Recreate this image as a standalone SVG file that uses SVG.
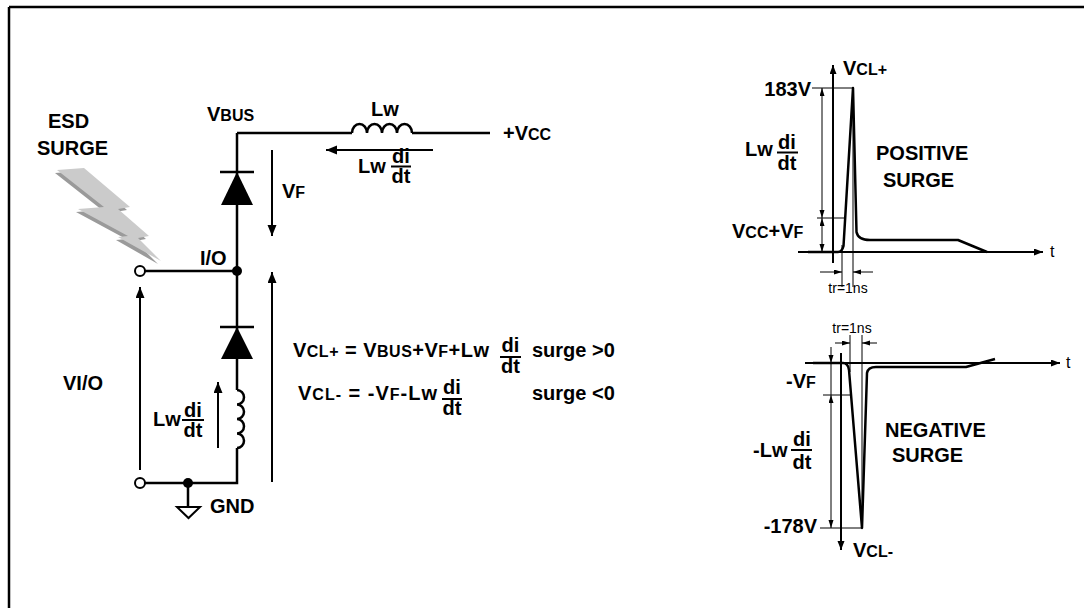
<svg xmlns="http://www.w3.org/2000/svg" width="1084" height="608" viewBox="0 0 1084 608">
<style>
text{font-family:"Liberation Sans",Arial,Helvetica,sans-serif;fill:#000}
.b{font-weight:bold;font-size:20px}
.s{font-size:16px}
.n{font-weight:normal;font-size:14px}
.t{font-weight:normal;font-size:16px}
.w{fill:none;stroke:#000;stroke-width:2.5}
.a{fill:none;stroke:#000;stroke-width:2}
.th{fill:none;stroke:#000;stroke-width:1}
.wave{fill:none;stroke:#000;stroke-width:2.5;stroke-linejoin:round}
.fl{stroke:#000;stroke-width:2}
</style>
<defs>
<marker id="ah" markerUnits="userSpaceOnUse" markerWidth="12" markerHeight="10" refX="11" refY="4.5" orient="auto"><path d="M0,0 L11,4.5 L0,9 z" fill="#000"/></marker>
<marker id="am" markerUnits="userSpaceOnUse" markerWidth="10" markerHeight="8" refX="9" refY="3.5" orient="auto"><path d="M0,0 L9,3.5 L0,7 z" fill="#000"/></marker>
<marker id="as" markerUnits="userSpaceOnUse" markerWidth="9" markerHeight="6" refX="8" refY="2.5" orient="auto-start-reverse"><path d="M0,0 L8,2.5 L0,5 z" fill="#000"/></marker>
</defs>

<g id="frame">
<path d="M9,7 H1084 M9,7 V608" fill="none" stroke="#000" stroke-width="2.5"/>
</g>

<g id="lightning">
<polygon points="55,173 81,171 127,210 115,212 146,239 135,241 158,264 116,240 126,239 76,212 102,210" fill="#9a9a9a"/>
<polygon points="57,170 84,168 130,207 118,209 149,236 138,238 161,261 118,237 128,236 78,209 104,207" fill="#cbcbcb"/>
<text class="b" x="48" y="128">ESD</text>
<text class="b" x="37" y="155">SURGE</text>
</g>

<g id="connectors">
<path class="w" d="M237,133 H352 M412,133 H490"/>
<path class="w" d="M237,133 V390 M237,448 V483 H145"/>
<path class="w" d="M145,271 H237"/>
<path class="w" d="M188,483 V507"/>
</g>

<g id="inductor-top">
<path class="w" d="M352,133 a7.5,9 0 0 1 15,0 a7.5,9 0 0 1 15,0 a7.5,9 0 0 1 15,0 a7.5,9 0 0 1 15,0"/>
<text class="b" x="385" y="116" text-anchor="middle">Lw</text>
</g>

<g id="vcc">
<text class="b" x="503" y="140">+V<tspan class="s">CC</tspan></text>
</g>

<g id="vbus">
<text class="b" x="207" y="121">V<tspan class="s">BUS</tspan></text>
</g>

<g id="diode-top">
<polygon points="221,205 253,205 237,172" fill="#000"/>
<line class="w" x1="220" y1="172" x2="254" y2="172"/>
</g>

<g id="diode-bottom">
<polygon points="221,359 253,359 237,327" fill="#000"/>
<line class="w" x1="220" y1="327" x2="254" y2="327"/>
</g>

<g id="inductor-vert">
<path class="w" d="M237,390 a7,7.25 0 0 1 0,14.5 a7,7.25 0 0 1 0,14.5 a7,7.25 0 0 1 0,14.5 a7,7.25 0 0 1 0,14.5"/>
</g>

<g id="io-node">
<circle cx="237" cy="271" r="5" fill="#000"/>
<circle cx="140" cy="271" r="5" fill="#fff" stroke="#000" stroke-width="2"/>
<text class="b" x="200" y="265">I/O</text>
</g>

<g id="gnd-node">
<circle cx="188" cy="483" r="5" fill="#000"/>
<circle cx="140" cy="483" r="5" fill="#fff" stroke="#000" stroke-width="2"/>
<polygon points="177,507 200,507 188.5,518" fill="#fff" stroke="#000" stroke-width="2"/>
<text class="b" x="210" y="513">GND</text>
</g>

<g id="arrows">
<line class="a" x1="433" y1="150" x2="326" y2="150" marker-end="url(#ah)"/>
<line class="a" x1="272" y1="150" x2="272" y2="236" marker-end="url(#ah)"/>
<line class="a" x1="140" y1="470" x2="140" y2="287" marker-end="url(#ah)"/>
<line class="a" x1="218" y1="448" x2="218" y2="382" marker-end="url(#ah)"/>
<line class="a" x1="272" y1="482" x2="272" y2="272" marker-end="url(#ah)"/>
</g>

<g id="label-top-lw">
<text class="b" x="358" y="173">Lw</text>
<text class="b" x="401" y="163" text-anchor="middle">di</text>
<line class="fl" x1="391" y1="166.5" x2="411" y2="166.5"/>
<text class="b" x="401" y="183" text-anchor="middle">dt</text>
</g>

<g id="label-vf">
<text class="b" x="282" y="198">V<tspan class="s">F</tspan></text>
</g>

<g id="label-vio">
<text class="b" x="63" y="390">VI/O</text>
</g>

<g id="label-left-lw">
<text class="b" x="153" y="426">Lw</text>
<text class="b" x="193" y="417" text-anchor="middle">di</text>
<line class="fl" x1="182" y1="420" x2="204" y2="420"/>
<text class="b" x="193" y="437" text-anchor="middle">dt</text>
</g>

<g id="equations">
<text class="b" x="293" y="357" textLength="196" lengthAdjust="spacing">V<tspan class="s">CL+</tspan> = V<tspan class="s">BUS</tspan>+V<tspan class="s">F</tspan>+Lw</text>
<text class="b" x="510.5" y="352" text-anchor="middle">di</text>
<line class="fl" x1="500" y1="357" x2="521" y2="357"/>
<text class="b" x="510.5" y="373" text-anchor="middle">dt</text>
<text class="b" x="532" y="357">surge &gt;0</text>
<text class="b" x="298" y="400" textLength="139" lengthAdjust="spacing">V<tspan class="s">CL-</tspan> = -V<tspan class="s">F</tspan>-Lw</text>
<text class="b" x="452" y="394" text-anchor="middle">di</text>
<line class="fl" x1="442" y1="399" x2="462" y2="399"/>
<text class="b" x="452" y="415" text-anchor="middle">dt</text>
<text class="b" x="532" y="400">surge &lt;0</text>
</g>

<g id="positive-graph">
<line class="a" x1="833" y1="263" x2="833" y2="65" marker-end="url(#am)" stroke-width="1.2"/>
<line class="a" x1="798" y1="252" x2="1043" y2="252" marker-end="url(#am)" stroke-width="1.2"/>
<path class="wave" d="M808,252 L838,252 Q842,252 843.5,246 L853,88 L856.5,232 Q858,240 870,240 L958,240 L987,252"/>
<path class="th" d="M812,88 H853 M817,218 H845 M842,245 V287 M853,88 V287"/>
<line class="th" x1="822" y1="88" x2="822" y2="218" marker-start="url(#as)" marker-end="url(#as)"/>
<line class="th" x1="822" y1="218" x2="822" y2="252" marker-start="url(#as)" marker-end="url(#as)"/>
<line class="th" x1="820" y1="272" x2="842" y2="272" marker-end="url(#as)"/>
<line class="th" x1="873" y1="272" x2="853" y2="272" marker-end="url(#as)"/>
<text class="b" x="843" y="75">V<tspan class="s">CL+</tspan></text>
<text class="b" x="811" y="96" text-anchor="end" font-size="18">183V</text>
<text class="b" x="745" y="156">Lw</text>
<text class="b" x="787" y="149" text-anchor="middle">di</text>
<line class="fl" x1="777" y1="152.5" x2="798" y2="152.5"/>
<text class="b" x="787" y="170" text-anchor="middle">dt</text>
<text class="b" x="732" y="238">V<tspan class="s">CC</tspan>+V<tspan class="s">F</tspan></text>
<text class="b" x="876" y="160">POSITIVE</text>
<text class="b" x="883" y="187">SURGE</text>
<text class="n" x="848" y="293" text-anchor="middle">tr=1ns</text>
<text class="t" x="1050" y="257">t</text>
</g>

<g id="negative-graph">
<line class="a" x1="805" y1="363" x2="1060" y2="363" marker-end="url(#am)" stroke-width="1.2"/>
<line class="a" x1="841" y1="353" x2="841" y2="550" marker-end="url(#am)" stroke-width="1.2"/>
<path class="wave" d="M813,363 L843,363 Q848,363 849,370 L862,528 L867,373 Q868,367 876,367 L966,367 L995,359"/>
<path class="th" d="M820,528 H862 M823,395 H852 M850,335 V372 M862,335 V528 M831,363 V395"/>
<line class="th" x1="831" y1="347" x2="831" y2="363" marker-end="url(#as)"/>
<line class="th" x1="831" y1="395" x2="831" y2="528" marker-start="url(#as)" marker-end="url(#as)"/>
<line class="th" x1="835" y1="343" x2="850" y2="343" marker-end="url(#as)"/>
<line class="th" x1="877" y1="343" x2="862" y2="343" marker-end="url(#as)"/>
<text class="n" x="852" y="333" text-anchor="middle">tr=1ns</text>
<text class="t" x="1066" y="368">t</text>
<text class="b" x="786" y="388">-V<tspan class="s">F</tspan></text>
<text class="b" x="753" y="457">-Lw</text>
<text class="b" x="802" y="446" text-anchor="middle">di</text>
<line class="fl" x1="791" y1="450" x2="812" y2="450"/>
<text class="b" x="802" y="469" text-anchor="middle">dt</text>
<text class="b" x="885" y="437">NEGATIVE</text>
<text class="b" x="892" y="462">SURGE</text>
<text class="b" x="817" y="533" text-anchor="end" font-size="17">-178V</text>
<text class="b" x="853" y="557">V<tspan class="s">CL-</tspan></text>
</g>
</svg>
